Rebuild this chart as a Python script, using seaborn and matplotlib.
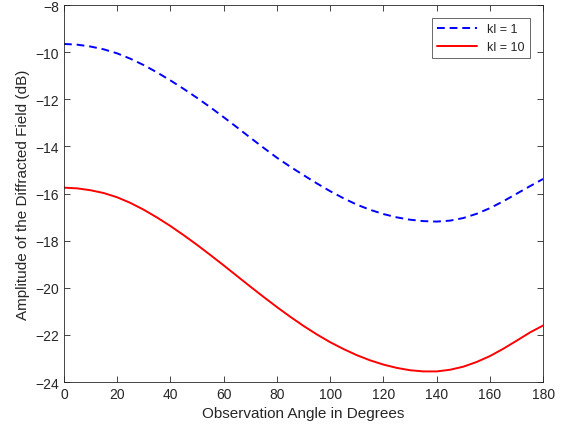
import pandas as pd
import seaborn as sns
import matplotlib.pyplot as plt

angles = list(range(0, 181, 5))
kl1 = [-9.65, -9.68, -9.76, -9.88, -10.05, -10.28, -10.55, -10.86, -11.2, -11.56,
       -11.94, -12.34, -12.76, -13.19, -13.63, -14.06, -14.48, -14.86, -15.22, -15.57,
       -15.9, -16.2, -16.47, -16.69, -16.87, -17.01, -17.11, -17.17, -17.19, -17.15,
       -17.04, -16.86, -16.62, -16.33, -16.01, -15.69, -15.38]
kl10 = [-15.75, -15.78, -15.86, -15.98, -16.16, -16.4, -16.69, -17.02, -17.38, -17.77,
        -18.18, -18.61, -19.05, -19.5, -19.95, -20.39, -20.82, -21.23, -21.62, -21.98,
        -22.31, -22.6, -22.86, -23.08, -23.26, -23.4, -23.5, -23.55, -23.55, -23.48,
        -23.35, -23.15, -22.9, -22.59, -22.25, -21.9, -21.6]

df = pd.DataFrame({"angle": angles * 2,
                   "amp": kl1 + kl10,
                   "case": ["kl = 1"] * len(angles) + ["kl = 10"] * len(angles)})

sns.set_style("white")
plt.rcParams["font.family"] = ["Liberation Sans", "DejaVu Sans"]

fig = plt.figure(figsize=(5.64, 4.35), dpi=100)
ax = fig.add_axes([0.1135, 0.1195, 0.8495, 0.8665])
sns.lineplot(data=df, x="angle", y="amp", hue="case", style="case",
             palette={"kl = 1": "#0000ff", "kl = 10": "#ff0000"},
             dashes={"kl = 1": (4, 2.5), "kl = 10": ""}, linewidth=1.4, ax=ax)

ax.set_xlim(0, 180)
ax.set_ylim(-24, -8)
ax.set_xticks(range(0, 181, 20))
ax.set_yticks(range(-24, -7, 2))
ax.set_xlabel("Observation Angle in Degrees", fontsize=11, color="#262626")
ax.set_ylabel("Amplitude of the Diffracted Field (dB)", fontsize=11, color="#262626")
ax.tick_params(direction="in", length=4, width=0.6, colors="#262626", labelsize=10,
               top=True, right=True, bottom=True, left=True)
for s in ax.spines.values():
    s.set_color("#262626")
    s.set_linewidth(0.6)

leg = ax.legend(loc="upper right", fontsize=9, frameon=True, fancybox=False,
                edgecolor="#262626", handlelength=3.2, borderpad=0.4,
                bbox_to_anchor=(0.985, 0.982))
leg.get_frame().set_linewidth(0.6)

fig.savefig("out.png", dpi=100)
